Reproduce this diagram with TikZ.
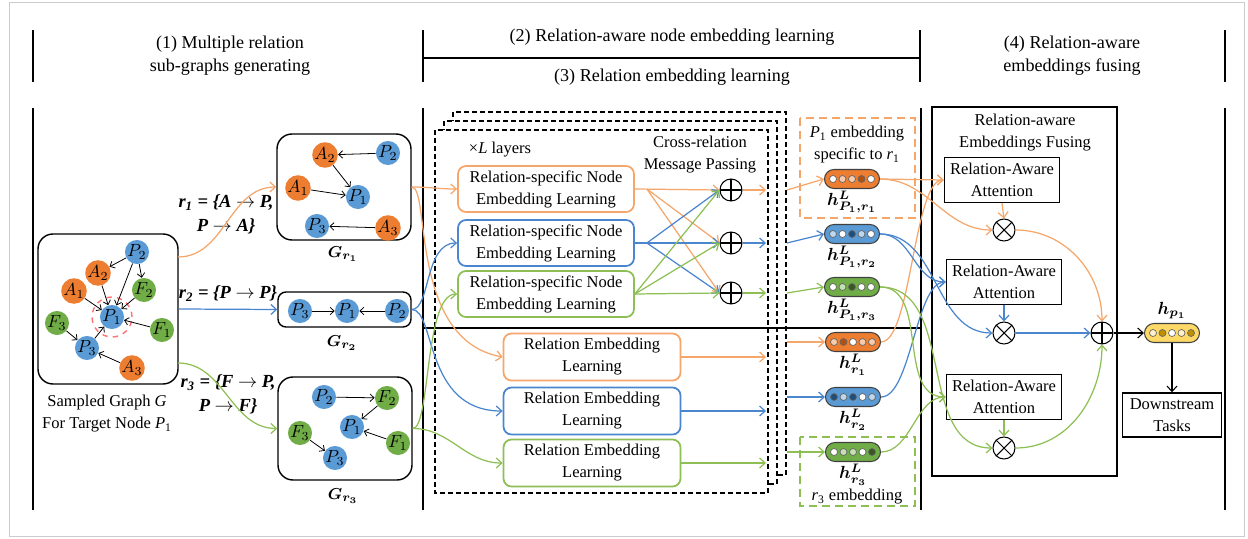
\documentclass[tikz,border=0pt]{standalone}
\usepackage{fontspec}
\setmainfont{Liberation Serif}
\usepackage{bm}
\usetikzlibrary{positioning, calc, arrows.meta}
\definecolor{myorange}{HTML}{ED7D31}
\definecolor{myblue}{HTML}{5B9BD5}
\definecolor{mygreen}{HTML}{70AD47}
\definecolor{myyellow}{HTML}{FFD966}
\definecolor{lineorange}{HTML}{F5A66A}
\definecolor{lineblue}{HTML}{4A86CE}
\definecolor{linegreen}{HTML}{8DBF55}
\definecolor{orangelt}{HTML}{F8CBAD}
\definecolor{orangedk}{HTML}{B4500F}
\definecolor{bluelt}{HTML}{BDD7EE}
\definecolor{bluedk}{HTML}{1F4E79}
\definecolor{greenlt}{HTML}{C5E0B4}
\definecolor{greendk}{HTML}{385723}
\definecolor{goldlt}{HTML}{FFF2CC}
\definecolor{golddk}{HTML}{BF9000}
\tikzset{
	pnode/.style={
			circle,
			fill=myblue,
			minimum size=4.4mm,
			inner sep=0pt,
			font=\fontsize{10}{12}\selectfont
		},
	anode/.style={pnode, fill=myorange},
	fnode/.style={pnode, fill=mygreen},
	gedge/.style={
			-{Straight Barb[length=0.8mm,width=1.5mm]},
			line width=0.45pt
		},
	graphbox/.style={
			draw,
			thick,
			rounded corners=3mm,
			inner sep=0pt
		},
	rsnode/.style={
			draw,
			line width=1pt,
			rounded corners=1.6mm,
			minimum width=35.2mm,
			minimum height=9.2mm,
			align=center,
			inner sep=0pt
		},
	relnode/.style={rsnode, minimum width=35.4mm, minimum height=9.4mm},
	attnode/.style={
			draw,
			thick,
			minimum width=23mm,
			minimum height=9mm,
			align=center,
			inner sep=0pt
		},
	vecnode/.style={
			draw=black!75,
			line width=0.6pt,
			rounded corners=1.9mm,
			minimum width=11mm,
			minimum height=3.8mm,
			inner sep=0pt
		},
	dotnode/.style={
			circle,
			draw=black!60,
			line width=0.4pt,
			minimum size=1.4mm,
			inner sep=0pt
		},
	veclabel/.style={inner sep=0pt, font=\fontsize{10}{12}\selectfont},
	headnode/.style={align=center, font=\fontsize{10.3}{13}\selectfont},
	rlabel/.style={align=center, font=\fontsize{10.5}{13.5}\selectfont\bfseries\itshape},
	plusnode/.style={
			circle,
			draw,
			semithick,
			minimum size=4.4mm,
			inner sep=0pt,
			path picture={\draw[semithick] (path picture bounding box.north) -- (path picture bounding box.south)
					(path picture bounding box.west) -- (path picture bounding box.east);}
		},
	timesnode/.style={
			circle,
			draw,
			semithick,
			minimum size=4.4mm,
			inner sep=0pt,
			path picture={\draw[semithick] (path picture bounding box.north west) -- (path picture bounding box.south east)
					(path picture bounding box.south west) -- (path picture bounding box.north east);}
		},
	layerbox/.style={draw, line width=0.8pt, fill=white, dash pattern=on 1mm off 0.6mm},
	notebox/.style={line width=1.3pt, dash pattern=on 1.6mm off 1mm},
	sepline/.style={line width=0.9pt},
	oline/.style={draw=lineorange, line width=0.7pt},
	bline/.style={draw=lineblue, line width=0.7pt},
	gline/.style={draw=linegreen, line width=0.7pt}
}

\begin{document}
\begin{tikzpicture}[x=0.2mm, y=-0.2mm, >={Straight Barb[length=1.1mm,width=2mm]}, font=\fontsize{9.4}{12.5}\selectfont]
	\useasboundingbox (0,0) rectangle (1248,539);
	\draw[black!20] (9,2) rectangle (1244,536);

	% headers
	\draw[sepline] (33,30) -- (33,82);
	\draw[sepline] (423,30) -- (423,82);
	\draw[sepline] (920,30) -- (920,82);
	\draw[sepline] (1225,30) -- (1225,82);
	\draw[sepline] (423,58) -- (920,58);
	\node[headnode] at (230,56) (head1) {(1) Multiple relation\\sub-graphs generating};
	\node[headnode] at (672,37) (head2) {(2) Relation-aware node embedding learning};
	\node[headnode] at (672,77) (head3) {(3) Relation embedding learning};
	\node[headnode] at (1072,56) (head4) {(4) Relation-aware\\embeddings fusing};

	\draw[sepline] (33,108) -- (33,510);
	\draw[sepline] (423,108) -- (423,510);
	\draw[sepline] (921,108) -- (921,510);
	\draw[sepline] (1225,108) -- (1225,510);

	% sampled graph
	\node[graphbox, minimum width=28mm, minimum height=30mm] at (108,309) (sgbox) {};
	\node[pnode] at (137,252) (sP2) {$P_2$};
	\node[anode] at (98,273) (sA2) {$A_2$};
	\node[fnode] at (144,290) (sF2) {$F_2$};
	\node[anode] at (74,291) (sA1) {$A_1$};
	\node[pnode] at (112,317) (sP1) {$P_1$};
	\node[fnode] at (57,323) (sF3) {$F_3$};
	\node[fnode] at (162,330) (sF1) {$F_1$};
	\node[pnode] at (87,348) (sP3) {$P_3$};
	\node[anode] at (132,368) (sA3) {$A_3$};
	\node[circle, draw=red!55, dashed, thick, minimum size=8mm] at (sP1) (sP1ring) {};
	\draw[gedge] (sP2) -- (sA2);
	\draw[gedge] (sP2) -- (sP1);
	\draw[gedge] (sP2) -- (sF2);
	\draw[gedge] (sA2) -- (sP1);
	\draw[gedge] (sA1) -- (sP1);
	\draw[gedge] (sF2) -- (sP1);
	\draw[gedge] (sF1) -- (sP1);
	\draw[gedge] (sP3) -- (sP1);
	\draw[gedge] (sF3) -- (sP3);
	\draw[gedge] (sA3) -- (sP3);
	\node[align=center] at (107,414) (sglab) {Sampled Graph \textit{G}\\For Target Node \textit{P}\textsubscript{1}};

	% relation sub-graphs
	\node[graphbox, minimum width=26.8mm, minimum height=21.2mm] at (344,187) (gr1) {};
	\node[anode] at (325,155) (aA2) {$A_2$};
	\node[pnode] at (388,153) (aP2) {$P_2$};
	\node[anode] at (298,188) (aA1) {$A_1$};
	\node[pnode] at (358,197) (aP1) {$P_1$};
	\node[pnode] at (317,226) (aP3) {$P_3$};
	\node[anode] at (388,228) (aA3) {$A_3$};
	\draw[gedge] (aP2) -- (aA2);
	\draw[gedge] (aA2) -- (aP1);
	\draw[gedge] (aA1) -- (aP1);
	\draw[gedge] (aA3) -- (aP3);
	\node at (343,254) (gr1lab) {$\bm{G_{r_1}}$};

	\node[graphbox, rounded corners=1.6mm, minimum width=26.6mm, minimum height=7mm] at (344.5,309.5) (gr2) {};
	\node[pnode] at (300,311) (bP3) {$P_3$};
	\node[pnode] at (347,311) (bP1) {$P_1$};
	\node[pnode] at (397,311) (bP2) {$P_2$};
	\draw[gedge] (bP3) -- (bP1);
	\draw[gedge] (bP2) -- (bP1);
	\node at (342,343) (gr2lab) {$\bm{G_{r_2}}$};

	\node[graphbox, minimum width=26.8mm, minimum height=20.6mm] at (345,428.5) (gr3) {};
	\node[pnode] at (324,397) (cP2) {$P_2$};
	\node[fnode] at (387,398) (cF2) {$F_2$};
	\node[pnode] at (352,427) (cP1) {$P_1$};
	\node[fnode] at (300,433) (cF3) {$F_3$};
	\node[fnode] at (398,443) (cF1) {$F_1$};
	\node[pnode] at (335,458) (cP3) {$P_3$};
	\draw[gedge] (cP2) -- (cF2);
	\draw[gedge] (cF2) -- (cP1);
	\draw[gedge] (cF1) -- (cP1);
	\draw[gedge] (cF3) -- (cP3);
	\node at (343,496) (gr3lab) {$\bm{G_{r_3}}$};

	% relation labels and splits
	\node[rlabel] at (226,214) (r1lab) {r\textsubscript{1} = \{A $\rightarrow$ P,\\P $\rightarrow$ A\}};
	\node[rlabel] at (228,294) (r2lab) {r\textsubscript{2} = \{P $\rightarrow$ P\}};
	\node[rlabel] at (228,394) (r3lab) {r\textsubscript{3} = \{F $\rightarrow$ P,\\P $\rightarrow$ F\}};
	\coordinate (sgr1) at (178,257);
	\coordinate (sgr3) at (178,363);
	\draw[->, oline] (sgr1) to[out=0, in=180] (gr1.west);
	\draw[->, bline] (sgbox.east) -- (gr2.west);
	\draw[->, gline] (sgr3) to[out=0, in=180] (gr3.west);

	% stacked layers
	\foreach \d in {18,9,0}
		\draw[layerbox] (435+\d,130-\d) rectangle (768+\d,493-\d);
	\coordinate (laye) at (766,0);
	\coordinate (layb) at (787,0);
	\node at (500,150) (layers) {×\textit{L} layers};
	\node[align=center] at (700,155) (crosslab) {Cross-relation\\Message Passing};

	\node[rsnode, draw=lineorange] at (546,189) (rs1) {Relation-specific Node\\Embedding Learning};
	\node[rsnode, draw=lineblue] at (546,243) (rs2) {Relation-specific Node\\Embedding Learning};
	\node[rsnode, draw=linegreen] at (546,294) (rs3) {Relation-specific Node\\Embedding Learning};
	\node[plusnode] at (731,190) (op1) {};
	\node[plusnode] at (731,243) (op2) {};
	\node[plusnode] at (731,293) (op3) {};

	\node[relnode, draw=lineorange] at (592,357) (rel1) {Relation Embedding\\Learning};
	\node[relnode, draw=lineblue] at (592,411) (rel2) {Relation Embedding\\Learning};
	\node[relnode, draw=linegreen] at (592,463) (rel3) {Relation Embedding\\Learning};
	\draw[sepline] (423,328) -- (921,328);

	\draw[->, oline] (gr1.east) to[out=0, in=180] (rs1.west);
	\draw[->, oline] (gr1.east) .. controls +(19,0) and +(-94,-17) .. (rel1.west);
	\draw[->, bline] (gr2.east) .. controls +(19,0) and +(-33,0) .. (rs2.west);
	\draw[->, bline] (gr2.east) .. controls +(24,0) and +(-79,0) .. (rel2.west);
	\draw[->, gline] (gr3.east) .. controls +(18,0) and +(-33,0) .. (rs3.west);
	\draw[->, gline] (gr3.east) to[out=0, in=180] (rel3.west);

	% cross-relation message passing
	\coordinate (ob) at ($(rs1.east)+(12,0)$);
	\coordinate (bb) at ($(rs2.east)+(12,0)$);
	\draw[->, oline] (rs1.east) -- (op1.west);
	\draw[->, oline] (ob) -- (op2.west);
	\draw[->, oline] (ob) -- (op3.west);
	\draw[bline] (rs2.east) -- (bb);
	\draw[->, bline] (bb) -- (op1.west);
	\draw[->, bline] (bb) -- (op2.west);
	\draw[->, bline] (bb) -- (op3.west);
	\draw[->, gline] (rs3.east) -- (op1.west);
	\draw[->, gline] (rs3.east) -- (op2.west);
	\draw[->, gline] (rs3.east) -- (op3.west);
	\draw[->, oline] (op1.east) -- (op1.east -| laye);
	\draw[->, bline] (op2.east) -- (op2.east -| laye);
	\draw[->, gline] (op3.east) -- (op3.east -| laye);
	\draw[->, oline] (rel1.east) -- (rel1.east -| laye);
	\draw[->, bline] (rel2.east) -- (rel2.east -| laye);
	\draw[->, gline] (rel3.east) -- (rel3.east -| laye);

	% embeddings
	\draw[notebox, draw=lineorange] (800,118) rectangle (915,218);
	\node[align=center] at (857,145) (notep) {\textit{P}\textsubscript{1} embedding\\specific to \textit{r}\textsubscript{1}};
	\draw[notebox, draw=linegreen] (800,437) rectangle (915,506);
	\node at (857,497) (noter) {\textit{r}\textsubscript{3} embedding};

	\node[vecnode, fill=myorange] at (852,179) (vp1) {};
	\foreach \c [count=\i] in {white, orangelt, orangelt, orangedk, white}
		\node[dotnode, fill=\c] at ($(vp1)+(\i*9.5-28.5,0)$) (vp1-\i) {};
	\node[vecnode, fill=myblue] at (852,234) (vp2) {};
	\foreach \c [count=\i] in {bluelt, white, bluedk, bluelt, white}
		\node[dotnode, fill=\c] at ($(vp2)+(\i*9.5-28.5,0)$) (vp2-\i) {};
	\node[vecnode, fill=mygreen] at (852,287) (vp3) {};
	\foreach \c [count=\i] in {white, greenlt, greendk, white, white}
		\node[dotnode, fill=\c] at ($(vp3)+(\i*9.5-28.5,0)$) (vp3-\i) {};
	\node[vecnode, fill=myorange] at (853,342) (vr1) {};
	\foreach \c [count=\i] in {orangelt, orangedk, white, orangelt, orangelt}
		\node[dotnode, fill=\c] at ($(vr1)+(\i*9.5-28.5,0)$) (vr1-\i) {};
	\node[vecnode, fill=myblue] at (853,397) (vr2) {};
	\foreach \c [count=\i] in {bluedk, bluelt, bluedk, white, bluelt}
		\node[dotnode, fill=\c] at ($(vr2)+(\i*9.5-28.5,0)$) (vr2-\i) {};
	\node[vecnode, fill=mygreen] at (853,452) (vr3) {};
	\foreach \c [count=\i] in {white, greenlt, greenlt, white, greendk}
		\node[dotnode, fill=\c] at ($(vr3)+(\i*9.5-28.5,0)$) (vr3-\i) {};

	\node[veclabel, below=1pt of vp1] (vp1-lab) {$\bm{h^{L}_{P_1,r_1}}$};
	\node[veclabel, below=1pt of vp2] (vp2-lab) {$\bm{h^{L}_{P_1,r_2}}$};
	\node[veclabel, below=1pt of vp3] (vp3-lab) {$\bm{h^{L}_{P_1,r_3}}$};
	\node[veclabel, below=1pt of vr1] (vr1-lab) {$\bm{h^{L}_{r_1}}$};
	\node[veclabel, below=1pt of vr2] (vr2-lab) {$\bm{h^{L}_{r_2}}$};
	\node[veclabel, below=1pt of vr3] (vr3-lab) {$\bm{h^{L}_{r_3}}$};

	\draw[->, oline] (op1.east -| layb) -- (vp1.west);
	\draw[->, bline] (op2.east -| layb) -- (vp2.west);
	\draw[->, gline] (op3.east -| layb) -- (vp3.west);
	\draw[->, oline] (vr1.west -| layb) -- (vr1.west);
	\draw[->, bline] (vr2.west -| layb) -- (vr2.west);
	\draw[->, gline] (vr3.west -| layb) -- (vr3.west);

	% fusing
	\node[draw, thick, minimum width=37mm, minimum height=73.8mm] at (1024.5,291.5) (fusebox) {};
	\node[align=center] at (1025,133) (fusetitle) {Relation-aware\\Embeddings Fusing};
	\node[attnode] at (1002,180) (att1) {Relation-Aware\\Attention};
	\node[attnode] at (1004,282) (att2) {Relation-Aware\\Attention};
	\node[attnode] at (1004,397) (att3) {Relation-Aware\\Attention};
	\node[timesnode] at (1004,230) (ot1) {};
	\node[timesnode] at (1004,333) (ot2) {};
	\node[timesnode] at (1004,448) (ot3) {};
	\node[plusnode] at (1102,333) (fop) {};

	\node[vecnode, fill=myyellow] at (1172,333) (hp) {};
	\foreach \c [count=\i] in {goldlt, golddk, white, goldlt, golddk}
		\node[dotnode, fill=\c] at ($(hp)+(\i*9.5-28.5,0)$) (hp-\i) {};
	\node[veclabel, above=2pt of hp] (hp-lab) {$\bm{h_{p_1}}$};
	\node[attnode, minimum width=19.8mm, minimum height=8.8mm] at (1172,415) (ds) {Downstream\\Tasks};

	\draw[->, oline] (vp1.east) -- (att1.west);
	\draw[->, oline] (vp1.east) to[out=0, in=180] (ot1.west);
	\draw[->, oline] (vr1.east) .. controls +(30,0) and +(-30,0) .. (att1.west);
	\draw[->, oline] (att1.south) -- (ot1.north);
	\draw[->, oline] (ot1.east) to[out=0, in=90] (fop.north);

	\draw[->, bline] (vp2.east) to[out=0, in=180] (att2.west);
	\draw[->, bline] (vp2.east) to[out=0, in=180] (ot2.west);
	\draw[->, bline] (vr2.east) .. controls +(30,0) and +(-30,0) .. (att2.west);
	\draw[->, bline] (att2.south) -- (ot2.north);
	\draw[->, bline] (ot2.east) -- (fop.west);

	\draw[->, gline] (vp3.east) to[out=0, in=180] (att3.west);
	\draw[->, gline] (vp3.east) to[out=0, in=180] (ot3.west);
	\draw[->, gline] (vr3.east) .. controls +(30,0) and +(-30,0) .. (att3.west);
	\draw[->, gline] (att3.south) -- (ot3.north);
	\draw[->, gline] (ot3.east) to[out=0, in=-90] (fop.south);

	\draw[->, line width=0.6pt] (fop.east) -- (hp.west);
	\draw[->, line width=0.6pt] (hp.south) -- (ds.north);
\end{tikzpicture}
\end{document}
